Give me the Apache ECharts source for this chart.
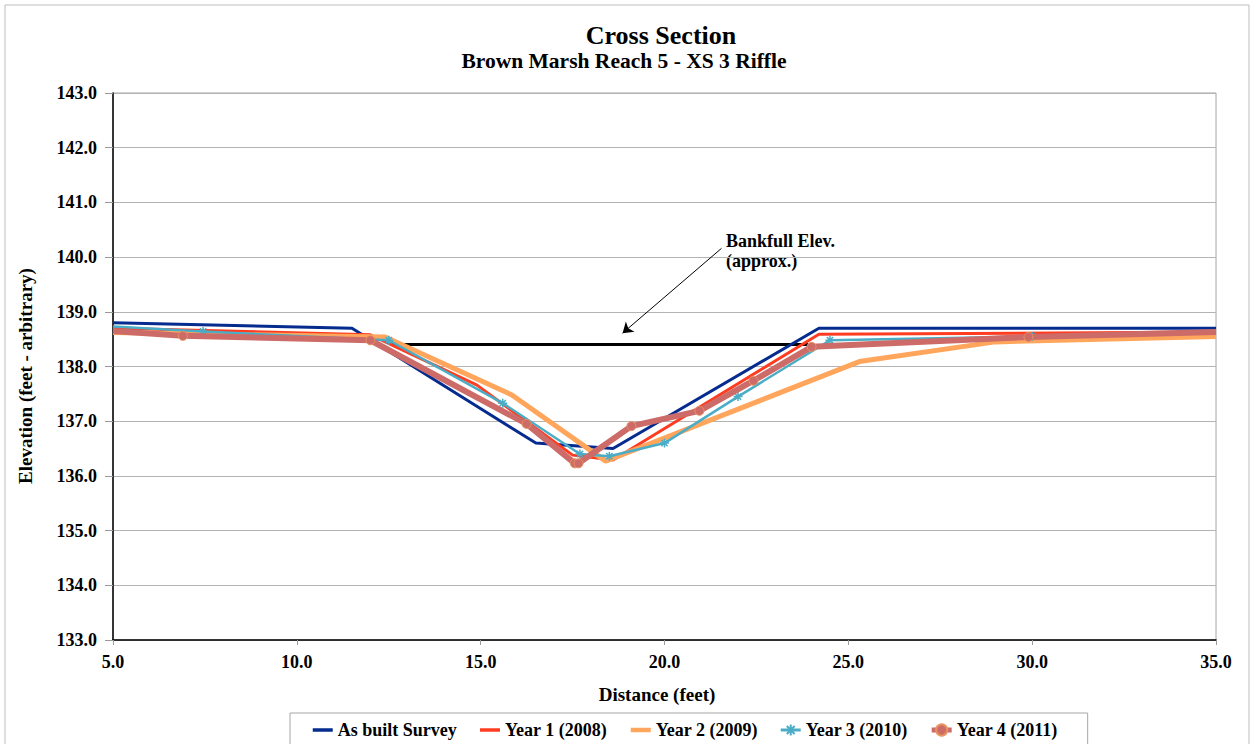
<!DOCTYPE html>
<html><head><meta charset="utf-8">
<script src="https://cdn.jsdelivr.net/npm/echarts@6/dist/echarts.min.js"></script>
<style>html,body{margin:0;padding:0;background:#fff}#c{width:1254px;height:744px}</style>
</head><body><div id="c"></div>
<script>
// ---- data ----
const titleText = 'Cross Section';
const subtitleText = 'Brown Marsh Reach 5 - XS 3 Riffle';
const xAxisName = 'Distance (feet)';
const yAxisName = 'Elevation (feet - arbitrary)';
const seriesNames = ['As built Survey', 'Year 1 (2008)', 'Year 2 (2009)', 'Year 3 (2010)', 'Year 4 (2011)'];

const asBuiltX = [5, 11.5, 16.5, 18.6, 24.2, 35];
const asBuiltY = [138.8, 138.7, 136.6, 136.5, 138.7, 138.7];

const year1X = [5, 12.0, 14.9, 17.5, 18.6, 24.2, 35];
const year1Y = [138.7, 138.58, 137.66, 136.38, 136.29, 138.59, 138.63];

const year2X = [5, 12.4, 15.85, 18.4, 25.3, 29.0, 35];
const year2Y = [138.62, 138.54, 137.48, 136.27, 138.09, 138.45, 138.55];

const year3X = [5, 7.45, 12.5, 15.6, 17.7, 18.5, 20.0, 22.0, 24.5, 30.0, 35];
const year3Y = [138.73, 138.64, 138.48, 137.33, 136.4, 136.36, 136.6, 137.45, 138.48, 138.55, 138.65];

const year4X = [5, 6.9, 12.0, 16.25, 17.56, 17.66, 19.1, 20.95, 22.42, 24.0, 29.9, 35];
const year4Y = [138.65, 138.56, 138.48, 136.95, 136.23, 136.23, 136.91, 137.19, 137.74, 138.36, 138.54, 138.63];

const bankfullX = [12.55, 23.9];
const bankfullY = [138.4, 138.4];
const bankfullLabel = ['Bankfull Elev.', '(approx.)'];
const arrowFrom = [21.55, 140.16];
const arrowTo = [18.86, 138.61];

const xTicks = {min: 5, max: 35, interval: 5};
const yTicks = {min: 133, max: 143, interval: 1};

// ---- chart ----
const FONT = '"Liberation Serif", "Times New Roman", serif';
// points lying on the plot edge are clipped in the original, so their markers are hidden
const pairs = (xs, ys, hideEdge) => xs.map((x, i) => {
  const item = {value: [x, ys[i]]};
  if (hideEdge && (x <= xTicks.min || x >= xTicks.max)) item.symbolSize = 0;
  return item;
});
const asterisk = 'path://M5,0L5,10M0,5L10,5M1.5,1.5L8.5,8.5M8.5,1.5L1.5,8.5';

const chart = echarts.init(document.getElementById('c'), null, {renderer: 'svg'});
chart.setOption({
  animation: false,
  backgroundColor: '#ffffff',
  grid: {left: 113, right: 38, top: 93, bottom: 104, show: true, borderColor: '#A6A6A6', borderWidth: 1, backgroundColor: 'transparent'},
  xAxis: {
    type: 'value', min: xTicks.min, max: xTicks.max, interval: xTicks.interval,
    axisLine: {show: true, onZero: false, lineStyle: {color: '#000', width: 1.5}},
    axisTick: {show: true, length: 5, lineStyle: {color: '#999'}},
    splitLine: {show: false},
    axisLabel: {margin: 13, formatter: v => v.toFixed(1), color: '#000', fontFamily: FONT, fontWeight: 'bold', fontSize: 18}
  },
  yAxis: {
    type: 'value', min: yTicks.min, max: yTicks.max, interval: yTicks.interval,
    axisLine: {show: true, lineStyle: {color: '#000', width: 1.5}},
    axisTick: {show: true, length: 8, lineStyle: {color: '#999'}},
    splitLine: {show: true, lineStyle: {color: '#B4B4B4', width: 1.2}},
    axisLabel: {margin: 16, formatter: v => v.toFixed(1), color: '#000', fontFamily: FONT, fontWeight: 'bold', fontSize: 18}
  },
  legend: {
    left: 290, top: 713, orient: 'horizontal',
    padding: [8, 30, 8, 21],
    borderColor: '#A6A6A6', borderWidth: 1,
    itemWidth: 20, itemHeight: 14, itemGap: 21.5,
    textStyle: {color: '#000', fontFamily: FONT, fontWeight: 'bold', fontSize: 18},
    data: [
      {name: seriesNames[0], itemStyle: {opacity: 0}, lineStyle: {width: 3.5}},
      {name: seriesNames[1], itemStyle: {opacity: 0}, lineStyle: {width: 3.5}},
      {name: seriesNames[2], itemStyle: {opacity: 0}, lineStyle: {width: 4.5}},
      {name: seriesNames[3], lineStyle: {width: 3}},
      {name: seriesNames[4], lineStyle: {width: 5}}
    ]
  },
  graphic: [
    {type: 'rect', shape: {x: 5, y: 5, width: 1244, height: 760}, style: {fill: 'none', stroke: '#BDBDBD', lineWidth: 1}, silent: true},
    {type: 'text', x: 661, y: 35.5, style: {text: titleText, fill: '#000', font: 'bold 26px ' + FONT, textAlign: 'center', textVerticalAlign: 'middle'}},
    {type: 'text', x: 624, y: 60.5, style: {text: subtitleText, fill: '#000', font: 'bold 21.5px ' + FONT, textAlign: 'center', textVerticalAlign: 'middle'}},
    {type: 'text', x: 657, y: 694, style: {text: xAxisName, fill: '#000', font: 'bold 19px ' + FONT, textAlign: 'center', textVerticalAlign: 'middle'}},
    {type: 'text', x: 25, y: 376, rotation: Math.PI / 2, style: {text: yAxisName, fill: '#000', font: 'bold 19px ' + FONT, textAlign: 'center', textVerticalAlign: 'middle'}},
    {type: 'text', x: 726, y: 231, style: {text: bankfullLabel.join('\n'), fill: '#000', font: 'bold 18px ' + FONT, lineHeight: 20, textAlign: 'left', textVerticalAlign: 'top'}}
  ],
  series: [
    {
      name: 'Bankfull', type: 'line', data: pairs(bankfullX, bankfullY, false), symbol: 'none',
      lineStyle: {color: '#000', width: 3}, z: 1, silent: true,
      markLine: {
        silent: true, symbol: ['none', 'arrow'], symbolSize: 10, label: {show: false},
        lineStyle: {color: '#000', width: 1, type: 'solid'},
        itemStyle: {color: '#000'},
        data: [[{coord: arrowFrom}, {coord: arrowTo}]]
      }
    },
    {name: seriesNames[0], type: 'line', data: pairs(asBuiltX, asBuiltY, false), symbol: 'none', z: 2,
      lineStyle: {color: '#052B8E', width: 3}, itemStyle: {color: '#052B8E'}},
    {name: seriesNames[1], type: 'line', data: pairs(year1X, year1Y, false), symbol: 'none', z: 3,
      lineStyle: {color: '#FF3C20', width: 3}, itemStyle: {color: '#FF3C20'}},
    {name: seriesNames[2], type: 'line', data: pairs(year2X, year2Y, false), symbol: 'none', z: 4,
      lineStyle: {color: '#FFA55C', width: 5}, itemStyle: {color: '#FFA55C'}},
    {name: seriesNames[3], type: 'line', data: pairs(year3X, year3Y, true), symbol: asterisk, symbolSize: 9, z: 5,
      lineStyle: {color: '#4BACC6', width: 2.5},
      itemStyle: {color: 'rgba(0,0,0,0)', borderColor: '#4BACC6', borderWidth: 1.5}},
    {name: seriesNames[4], type: 'line', data: pairs(year4X, year4Y, true), symbol: 'circle', symbolSize: 9, z: 6,
      lineStyle: {color: '#CC6B67', width: 6},
      itemStyle: {color: '#CC6B67', borderColor: '#E9935F', borderWidth: 1}}
  ]
});
</script>
</body></html>
